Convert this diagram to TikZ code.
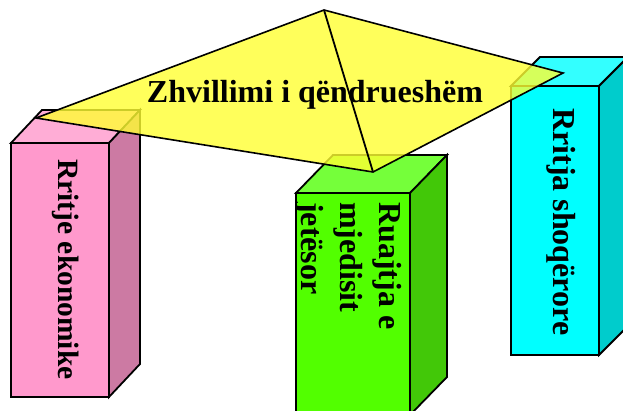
\documentclass[tikz,border=0pt]{standalone}
\usepackage{fontspec}
\setmainfont{Liberation Serif}
\definecolor{pinkF}{RGB}{255,153,204}
\definecolor{pinkT}{RGB}{255,173,214}
\definecolor{pinkR}{RGB}{204,122,163}
\definecolor{greenF}{RGB}{82,255,0}
\definecolor{greenT}{RGB}{117,255,58}
\definecolor{greenR}{RGB}{66,200,8}
\definecolor{cyanF}{RGB}{0,255,255}
\definecolor{cyanT}{RGB}{51,255,255}
\definecolor{cyanR}{RGB}{0,204,204}
\definecolor{yel}{RGB}{255,255,51}
\tikzset{
  boxedge/.style={draw=black, line width=1.8pt, line join=miter},
  plane/.style={draw=black, line width=1.6pt, fill=yel, fill opacity=0.8, line join=miter},
  vlabel/.style={rotate=-90, anchor=base west, inner sep=0pt, font=\fontsize{32}{38.5}\selectfont\bfseries},
  title/.style={anchor=base, inner sep=0pt, font=\fontsize{32}{38.5}\selectfont\bfseries}
}
\begin{document}
\begin{tikzpicture}[x=1pt,y=-1pt]
\useasboundingbox (0,0) rectangle (623,411);
\fill[white] (0,0) rectangle (623,411);
\begin{scope}
\clip (0,0) rectangle (623,411);
% pink box
\coordinate (pa) at (11,143); \coordinate (pb) at (109,143);
\coordinate (pc) at (109,397); \coordinate (pd) at (11,397);
\coordinate (pe) at (42,110); \coordinate (pf) at (140,110);
\coordinate (pg) at (140,364);
\filldraw[boxedge, fill=pinkT] (pa) -- (pe) -- (pf) -- (pb) -- cycle;
\filldraw[boxedge, fill=pinkR] (pb) -- (pf) -- (pg) -- (pc) -- cycle;
\filldraw[boxedge, fill=pinkF] (pa) -- (pb) -- (pc) -- (pd) -- cycle;
\node[vlabel, font=\fontsize{29.5}{36}\selectfont\bfseries] (econ) at (58,159) {Rritje ekonomike};
% green box
\coordinate (ga) at (296,193); \coordinate (gb) at (410,193);
\coordinate (gc) at (410,415); \coordinate (gd) at (296,415);
\coordinate (ge) at (333,155); \coordinate (gf) at (447,155);
\coordinate (gg) at (447,377);
\filldraw[boxedge, fill=greenT] (ga) -- (ge) -- (gf) -- (gb) -- cycle;
\filldraw[boxedge, fill=greenR] (gb) -- (gf) -- (gg) -- (gc) -- cycle;
\filldraw[boxedge, fill=greenF] (ga) -- (gb) -- (gc) -- (gd) -- cycle;
\begin{scope}
\clip ([xshift=1pt]ga) -- (gb) -- (gc) -- ([xshift=1pt]gd) -- cycle;
\node[vlabel] (env1) at (379,202) {Ruajtja e};
\node[vlabel] (env2) at (340.5,202) {mjedisit};
\node[vlabel] (env3) at (301.5,202) {jetësor};
\end{scope}
\draw[boxedge] (ga) -- (gd);
% cyan box
\coordinate (ca) at (511,86); \coordinate (cb) at (599,86);
\coordinate (cc) at (599,355); \coordinate (cd) at (511,355);
\coordinate (ce) at (540,57); \coordinate (cf) at (628,57);
\coordinate (cg) at (628,326);
\filldraw[boxedge, fill=cyanT] (ca) -- (ce) -- (cf) -- (cb) -- cycle;
\filldraw[boxedge, fill=cyanR] (cb) -- (cf) -- (cg) -- (cc) -- cycle;
\filldraw[boxedge, fill=cyanF] (ca) -- (cb) -- (cc) -- (cd) -- cycle;
\node[vlabel] (soc) at (553,108) {Rritja shoqërore};
% yellow plane
\coordinate (apex) at (324,10);
\coordinate (right) at (563,73);
\coordinate (bottom) at (373,172);
\coordinate (left) at (36,118);
\filldraw[plane] (apex) -- (right) -- (bottom) -- (left) -- cycle;
\draw[line width=1.8pt] (apex) -- (bottom);
\node[title] (sd) at (315,103) {Zhvillimi i qëndrueshëm};
\end{scope}
\end{tikzpicture}
\end{document}
